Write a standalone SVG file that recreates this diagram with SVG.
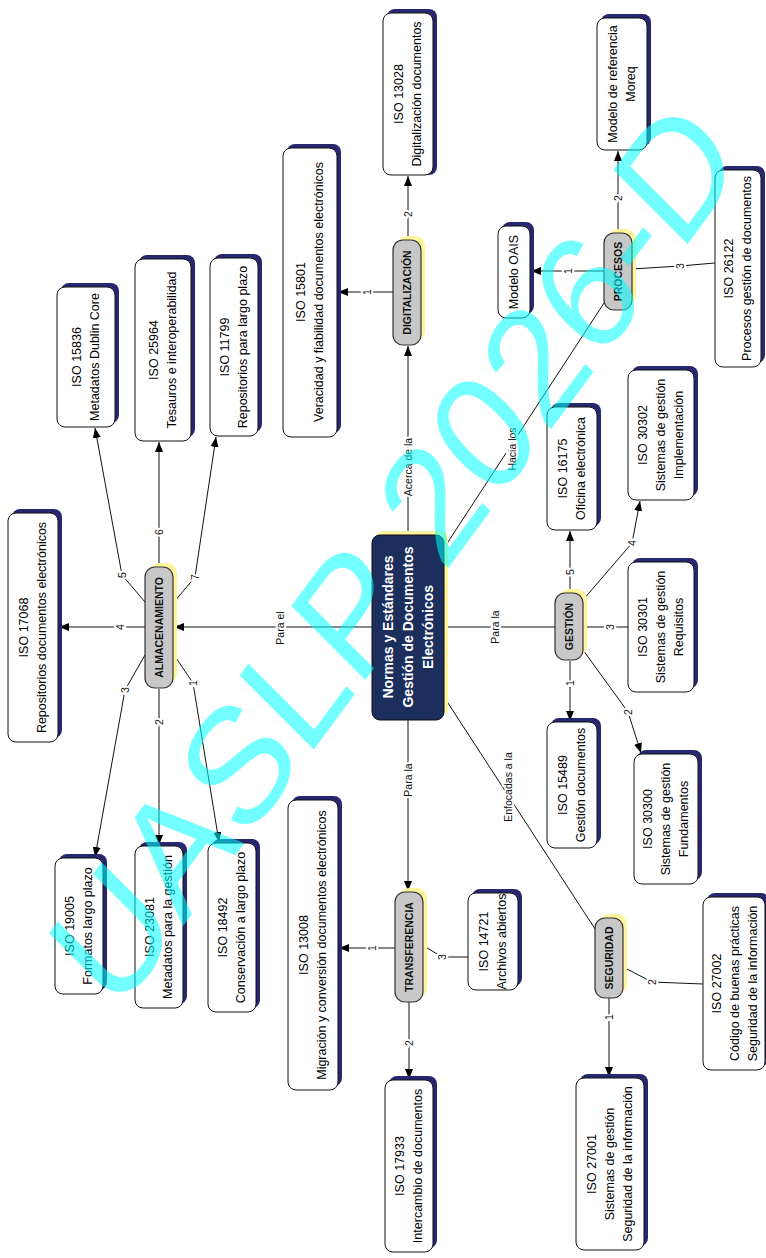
<svg xmlns="http://www.w3.org/2000/svg" width="766" height="1258" viewBox="0 0 766 1258">
<defs>
  <marker id="arr" viewBox="0 0 10 8" refX="10" refY="4" markerWidth="10" markerHeight="8" markerUnits="userSpaceOnUse" orient="auto">
    <path d="M0,0 L10,4 L0,8 z" fill="#000"/>
  </marker>
</defs>
<style>
  .sh{fill:#27276f}
  .box{fill:#fff;stroke:#111;stroke-width:1}
  .csh{fill:#fff59d}
  .cat{fill:#c8c8c8;stroke:#333;stroke-width:1.2}
  .main{fill:#1c2e5c;stroke:#111;stroke-width:1}
  .t{font-family:"Liberation Sans",Arial,sans-serif;font-size:12.5px;fill:#000;text-anchor:middle;dominant-baseline:central}
  .ct{font-family:"Liberation Sans",Arial,sans-serif;font-size:10.5px;font-weight:bold;fill:#111;text-anchor:middle;dominant-baseline:central}
  .mt{font-family:"Liberation Sans",Arial,sans-serif;font-size:14px;font-weight:bold;fill:#fff;text-anchor:middle;dominant-baseline:central}
  .c{fill:none;stroke:#111;stroke-width:1}
  .a{marker-end:url(#arr)}
  .lb{font-family:"Liberation Sans",Arial,sans-serif;font-size:10.5px;fill:#111;text-anchor:middle;dominant-baseline:central;stroke:#fff;stroke-width:4;paint-order:stroke}
  .wm{font-family:"Liberation Sans",Arial,sans-serif;font-size:165px;fill:#00ffff;fill-opacity:.55;text-anchor:middle}
</style>
<rect width="766" height="1258" fill="#fff"/>

<!-- connectors -->
<g id="connectors">
  <!-- from the central node -->
  <path class="c a" d="M372,627 L174,627"/>
  <path class="c a" d="M408,535 L408,346"/>
  <path class="c" d="M446,545 L606,300"/>
  <path class="c" d="M444,627 L555,627"/>
  <path class="c a" d="M408,720 L408,891"/>
  <path class="c" d="M446,700 L597,932"/>
  <!-- almacenamiento -->
  <path class="c a" d="M174,655 L193,683 L219,842"/>
  <path class="c a" d="M159,689 L159,845"/>
  <path class="c a" d="M145,655 L125,690 L95,857"/>
  <path class="c a" d="M145,627 L59,627"/>
  <path class="c a" d="M145,602 L122,575 L95,428"/>
  <path class="c a" d="M159,567 L159,442"/>
  <path class="c a" d="M174,602 L195,577 L216,437"/>
  <!-- digitalizacion -->
  <path class="c a" d="M393,292 L338,292"/>
  <path class="c a" d="M408,240 L408,176"/>
  <!-- procesos -->
  <path class="c a" d="M604,271 L531,271"/>
  <path class="c a" d="M618,233 L618,151"/>
  <path class="c" d="M632,269 L680,266 L715,263"/>
  <!-- gestion -->
  <path class="c a" d="M570,661 L570,721"/>
  <path class="c a" d="M583,650 L628,712 L641,753"/>
  <path class="c" d="M583,627 L628,627"/>
  <path class="c a" d="M583,600 L632,543 L640,501"/>
  <path class="c a" d="M570,593 L570,531"/>
  <!-- transferencia -->
  <path class="c a" d="M395,948 L339,948"/>
  <path class="c a" d="M409,1002 L409,1079"/>
  <path class="c" d="M424,946 L442,957 L468,957"/>
  <!-- seguridad -->
  <path class="c a" d="M609,998 L609,1077"/>
  <path class="c" d="M623,967 L652,982 L703,984"/>

  <!-- connector labels -->
  <text class="lb" transform="translate(280,628) rotate(-90)">Para el</text>
  <text class="lb" transform="translate(408,467) rotate(-90)">Acerca de la</text>
  <text class="lb" transform="translate(512,449) rotate(-90)">Hacia los</text>
  <text class="lb" transform="translate(495,627) rotate(-90)">Para la</text>
  <text class="lb" transform="translate(408,780) rotate(-90)">Para la</text>
  <text class="lb" transform="translate(508,787) rotate(-90)">Enfocadas a la</text>

  <text class="lb" transform="translate(193,683) rotate(-90)">1</text>
  <text class="lb" transform="translate(159,722) rotate(-90)">2</text>
  <text class="lb" transform="translate(125,690) rotate(-90)">3</text>
  <text class="lb" transform="translate(120,627) rotate(-90)">4</text>
  <text class="lb" transform="translate(122,575) rotate(-90)">5</text>
  <text class="lb" transform="translate(159,532) rotate(-90)">6</text>
  <text class="lb" transform="translate(195,577) rotate(-90)">7</text>

  <text class="lb" transform="translate(367,292) rotate(-90)">1</text>
  <text class="lb" transform="translate(408,214) rotate(-90)">2</text>

  <text class="lb" transform="translate(568,271) rotate(-90)">1</text>
  <text class="lb" transform="translate(618,198) rotate(-90)">2</text>
  <text class="lb" transform="translate(680,266) rotate(-90)">3</text>

  <text class="lb" transform="translate(570,683) rotate(-90)">1</text>
  <text class="lb" transform="translate(628,712) rotate(-90)">2</text>
  <text class="lb" transform="translate(610,627) rotate(-90)">3</text>
  <text class="lb" transform="translate(632,543) rotate(-90)">4</text>
  <text class="lb" transform="translate(570,572) rotate(-90)">5</text>

  <text class="lb" transform="translate(372,948) rotate(-90)">1</text>
  <text class="lb" transform="translate(409,1043) rotate(-90)">2</text>
  <text class="lb" transform="translate(442,957) rotate(-90)">3</text>

  <text class="lb" transform="translate(609,1017) rotate(-90)">1</text>
  <text class="lb" transform="translate(652,982) rotate(-90)">2</text>
</g>

<!-- central node -->
<g id="n-central">
  <rect class="csh" x="376" y="531" width="72" height="185" rx="8"/>
  <rect class="main" x="372" y="535" width="72" height="185" rx="8"/>
  <text class="mt" transform="translate(408,627) rotate(-90)"><tspan x="0" y="-20">Normas y Estándares</tspan><tspan x="0" y="0">Gestión de Documentos</tspan><tspan x="0" y="20">Electrónicos</tspan></text>
</g>

<!-- category nodes -->
<g id="n-almacenamiento">
  <rect class="csh" x="149" y="563" width="28" height="121" rx="10"/>
  <rect class="cat" x="145" y="567" width="28" height="121" rx="10"/>
  <text class="ct" transform="translate(159,627.5) rotate(-90)">ALMACENAMIENTO</text>
</g>
<g id="n-digitalizacion">
  <rect class="csh" x="397" y="236" width="28" height="105" rx="10"/>
  <rect class="cat" x="393" y="240" width="28" height="105" rx="10"/>
  <text class="ct" transform="translate(407,292.5) rotate(-90)">DIGITALIZACIÓN</text>
</g>
<g id="n-procesos">
  <rect class="csh" x="608" y="229" width="28" height="77" rx="10"/>
  <rect class="cat" x="604" y="233" width="28" height="77" rx="10"/>
  <text class="ct" transform="translate(618,271.5) rotate(-90)">PROCESOS</text>
</g>
<g id="n-gestion">
  <rect class="csh" x="559" y="589" width="28" height="67" rx="10"/>
  <rect class="cat" x="555" y="593" width="28" height="67" rx="10"/>
  <text class="ct" transform="translate(569,626.5) rotate(-90)">GESTIÓN</text>
</g>
<g id="n-transferencia">
  <rect class="csh" x="399" y="888" width="28" height="110" rx="10"/>
  <rect class="cat" x="395" y="892" width="28" height="110" rx="10"/>
  <text class="ct" transform="translate(409,947) rotate(-90)">TRANSFERENCIA</text>
</g>
<g id="n-seguridad">
  <rect class="csh" x="599" y="914" width="28" height="80" rx="10"/>
  <rect class="cat" x="595" y="918" width="28" height="80" rx="10"/>
  <text class="ct" transform="translate(609,958) rotate(-90)">SEGURIDAD</text>
</g>

<!-- standard nodes -->
<g id="n-iso17068">
  <rect class="sh" x="12" y="509" width="50" height="229" rx="8"/>
  <rect class="box" x="8" y="513" width="50" height="229" rx="8"/>
  <text class="t" transform="translate(33,627.5) rotate(-90)"><tspan x="0" y="-9">ISO 17068</tspan><tspan x="0" y="9">Repositorios documentos electrónicos</tspan></text>
</g>
<g id="n-iso15836">
  <rect class="sh" x="61" y="283" width="58" height="140" rx="8"/>
  <rect class="box" x="57" y="287" width="58" height="140" rx="8"/>
  <text class="t" transform="translate(86,357) rotate(-90)"><tspan x="0" y="-9">ISO 15836</tspan><tspan x="0" y="9">Metadatos Dublin Core</tspan></text>
</g>
<g id="n-iso25964">
  <rect class="sh" x="139" y="255" width="56" height="182" rx="8"/>
  <rect class="box" x="135" y="259" width="56" height="182" rx="8"/>
  <text class="t" transform="translate(163,350) rotate(-90)"><tspan x="0" y="-9">ISO 25964</tspan><tspan x="0" y="9">Tesauros e interoperabilidad</tspan></text>
</g>
<g id="n-iso11799">
  <rect class="sh" x="214" y="254" width="48" height="178" rx="8"/>
  <rect class="box" x="210" y="258" width="48" height="178" rx="8"/>
  <text class="t" transform="translate(234,347) rotate(-90)"><tspan x="0" y="-9">ISO 11799</tspan><tspan x="0" y="9">Repositorios para largo plazo</tspan></text>
</g>
<g id="n-iso15801">
  <rect class="sh" x="287" y="144" width="54" height="289" rx="8"/>
  <rect class="box" x="283" y="148" width="54" height="289" rx="8"/>
  <text class="t" transform="translate(310,292) rotate(-90)"><tspan x="0" y="-9">ISO 15801</tspan><tspan x="0" y="9">Veracidad y fiabilidad documentos electrónicos</tspan></text>
</g>
<g id="n-iso13028">
  <rect class="sh" x="387" y="9" width="50" height="166" rx="8"/>
  <rect class="box" x="383" y="13" width="50" height="162" rx="8"/>
  <text class="t" transform="translate(408,94) rotate(-90)"><tspan x="0" y="-9">ISO 13028</tspan><tspan x="0" y="9">Digitalización documentos</tspan></text>
</g>
<g id="n-iso19005">
  <rect class="sh" x="59" y="854" width="48" height="136" rx="8"/>
  <rect class="box" x="55" y="858" width="48" height="136" rx="8"/>
  <text class="t" transform="translate(79,926) rotate(-90)"><tspan x="0" y="-9">ISO 19005</tspan><tspan x="0" y="9">Formatos largo plazo</tspan></text>
</g>
<g id="n-iso23081">
  <rect class="sh" x="139" y="842" width="48" height="162" rx="8"/>
  <rect class="box" x="135" y="846" width="48" height="162" rx="8"/>
  <text class="t" transform="translate(159,927) rotate(-90)"><tspan x="0" y="-9">ISO 23081</tspan><tspan x="0" y="9">Metadatos para la gestión</tspan></text>
</g>
<g id="n-iso18492">
  <rect class="sh" x="212" y="839" width="48" height="169" rx="8"/>
  <rect class="box" x="208" y="843" width="48" height="169" rx="8"/>
  <text class="t" transform="translate(232,927.5) rotate(-90)"><tspan x="0" y="-9">ISO 18492</tspan><tspan x="0" y="9">Conservación a largo plazo</tspan></text>
</g>
<g id="n-moreq">
  <rect class="sh" x="601" y="14" width="50" height="132" rx="8"/>
  <rect class="box" x="597" y="18" width="50" height="132" rx="8"/>
  <text class="t" transform="translate(622,84) rotate(-90)"><tspan x="0" y="-9">Modelo de referencia</tspan><tspan x="0" y="9">Moreq</tspan></text>
</g>
<g id="n-oais">
  <rect class="sh" x="502" y="222" width="32" height="92" rx="8"/>
  <rect class="box" x="498" y="226" width="32" height="92" rx="8"/>
  <text class="t" transform="translate(514,272) rotate(-90)">Modelo OAIS</text>
</g>
<g id="n-iso26122">
  <rect class="sh" x="719" y="166" width="46" height="197" rx="8"/>
  <rect class="box" x="715" y="170" width="46" height="197" rx="8"/>
  <text class="t" transform="translate(738,268.5) rotate(-90)"><tspan x="0" y="-9">ISO 26122</tspan><tspan x="0" y="9">Procesos gestión de documentos</tspan></text>
</g>
<g id="n-iso16175">
  <rect class="sh" x="551" y="403" width="50" height="123" rx="8"/>
  <rect class="box" x="547" y="407" width="50" height="123" rx="8"/>
  <text class="t" transform="translate(572,468.5) rotate(-90)"><tspan x="0" y="-9">ISO 16175</tspan><tspan x="0" y="9">Oficina electrónica</tspan></text>
</g>
<g id="n-iso30302">
  <rect class="sh" x="632" y="366" width="66" height="130" rx="8"/>
  <rect class="box" x="628" y="370" width="66" height="130" rx="8"/>
  <text class="t" transform="translate(661,435) rotate(-90)"><tspan x="0" y="-18">ISO 30302</tspan><tspan x="0" y="0">Sistemas de gestión</tspan><tspan x="0" y="18">Implementación</tspan></text>
</g>
<g id="n-iso30301">
  <rect class="sh" x="632" y="558" width="66" height="130" rx="8"/>
  <rect class="box" x="628" y="562" width="66" height="130" rx="8"/>
  <text class="t" transform="translate(661,627) rotate(-90)"><tspan x="0" y="-18">ISO 30301</tspan><tspan x="0" y="0">Sistemas de gestión</tspan><tspan x="0" y="18">Requisitos</tspan></text>
</g>
<g id="n-iso15489">
  <rect class="sh" x="551" y="718" width="50" height="126" rx="8"/>
  <rect class="box" x="547" y="722" width="50" height="126" rx="8"/>
  <text class="t" transform="translate(572,785) rotate(-90)"><tspan x="0" y="-9">ISO 15489</tspan><tspan x="0" y="9">Gestión documentos</tspan></text>
</g>
<g id="n-iso30300">
  <rect class="sh" x="638" y="750" width="64" height="130" rx="8"/>
  <rect class="box" x="634" y="754" width="64" height="130" rx="8"/>
  <text class="t" transform="translate(666,819) rotate(-90)"><tspan x="0" y="-18">ISO 30300</tspan><tspan x="0" y="0">Sistemas de gestión</tspan><tspan x="0" y="18">Fundamentos</tspan></text>
</g>
<g id="n-iso13008">
  <rect class="sh" x="292" y="796" width="50" height="290" rx="8"/>
  <rect class="box" x="288" y="800" width="50" height="290" rx="8"/>
  <text class="t" transform="translate(313,945) rotate(-90)"><tspan x="0" y="-9">ISO 13008</tspan><tspan x="0" y="9">Migración y conversión documentos electrónicos</tspan></text>
</g>
<g id="n-iso14721">
  <rect class="sh" x="472" y="889" width="50" height="97" rx="8"/>
  <rect class="box" x="468" y="893" width="50" height="97" rx="8"/>
  <text class="t" transform="translate(493,941.5) rotate(-90)"><tspan x="0" y="-9">ISO 14721</tspan><tspan x="0" y="9">Archivos abiertos</tspan></text>
</g>
<g id="n-iso17933">
  <rect class="sh" x="389" y="1076" width="48" height="172" rx="8"/>
  <rect class="box" x="385" y="1080" width="48" height="172" rx="8"/>
  <text class="t" transform="translate(409,1166) rotate(-90)"><tspan x="0" y="-9">ISO 17933</tspan><tspan x="0" y="9">Intercambio de documentos</tspan></text>
</g>
<g id="n-iso27001">
  <rect class="sh" x="580" y="1074" width="68" height="172" rx="8"/>
  <rect class="box" x="576" y="1078" width="68" height="172" rx="8"/>
  <text class="t" transform="translate(610,1164) rotate(-90)"><tspan x="0" y="-18">ISO 27001</tspan><tspan x="0" y="0">Sistemas de gestión</tspan><tspan x="0" y="18">Seguridad de la información</tspan></text>
</g>
<g id="n-iso27002">
  <rect class="sh" x="707" y="893" width="62" height="173" rx="8"/>
  <rect class="box" x="703" y="897" width="62" height="173" rx="8"/>
  <text class="t" transform="translate(735,983.5) rotate(-90)"><tspan x="0" y="-18">ISO 27002</tspan><tspan x="0" y="0">Código de buenas prácticas</tspan><tspan x="0" y="18">Seguridad de la información</tspan></text>
</g>

<!-- watermark -->
<text class="wm" transform="translate(393,552) scale(0.86,1) rotate(-49.3)" x="0" y="59">UASLP 2026-D</text>
</svg>
